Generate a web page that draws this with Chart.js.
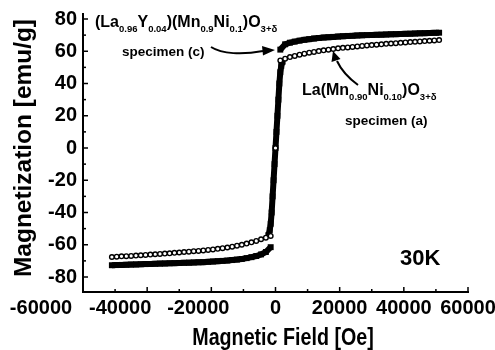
<!DOCTYPE html>
<html>
<head>
<meta charset="utf-8">
<script src="https://cdn.jsdelivr.net/npm/chart.js@4/dist/chart.umd.min.js"></script>
<style>
html,body{margin:0;padding:0;background:#fff;}
#wrap{width:495px;height:350px;position:relative;}
</style>
</head>
<body>
<div id="wrap"><canvas id="c" width="495" height="350"></canvas></div>
<script>
// ---- Data ----
// Specimen (a): La(Mn0.90Ni0.10)O3+d  (open circles)
const fieldAUp = [0,1500,3000,4500,6000,7500,9000,10500,12000,13500,15000,16500,18000,19500,21000,22500,24000,25500,27000,28500,30000,31500,33000,34500,36000,37500,39000,40500,42000,43500,45000,46500,48000,49500,51000];
const magAUp = [0,54.3,55.4,56.4,57.1,57.9,58.5,59.1,59.6,60.1,60.6,61.0,61.4,61.8,62.1,62.4,62.7,63.0,63.3,63.6,63.8,64.1,64.3,64.6,64.8,65.0,65.2,65.5,65.7,65.9,66.1,66.3,66.5,66.7,66.9];
const fieldADown = [-1500,-3000,-4500,-6000,-7500,-9000,-10500,-12000,-13500,-15000,-16500,-18000,-19500,-21000,-22500,-24000,-25500,-27000,-28500,-30000,-31500,-33000,-34500,-36000,-37500,-39000,-40500,-42000,-43500,-45000,-46500,-48000,-49500,-51000];
const magADown = [-54.5,-55.6,-56.6,-57.6,-58.5,-59.3,-60.0,-60.6,-61.2,-61.7,-62.1,-62.5,-62.9,-63.2,-63.5,-63.8,-64.0,-64.3,-64.5,-64.8,-65.0,-65.3,-65.5,-65.7,-65.9,-66.1,-66.3,-66.5,-66.7,-66.9,-67.1,-67.2,-67.4,-67.6];

// Specimen (c): (La0.96Y0.04)(Mn0.9Ni0.1)O3+d  (filled squares)
const fieldCLow = [-51000,-49500,-48000,-46500,-45000,-43500,-42000,-40500,-39000,-37500,-36000,-34500,-33000,-31500,-30000,-28500,-27000,-25500,-24000,-22500,-21000,-19500,-18000,-16500,-15000,-13500,-12000,-10500,-9000,-7500,-6000,-4500,-3000,-1500];
const magCLow = [-72.7,-72.6,-72.5,-72.4,-72.3,-72.2,-72.1,-72.0,-71.9,-71.8,-71.7,-71.6,-71.5,-71.4,-71.3,-71.2,-71.1,-71.0,-70.9,-70.8,-70.6,-70.4,-70.2,-70.0,-69.8,-69.5,-69.2,-68.8,-68.3,-67.7,-67.0,-66.0,-64.5,-61.5];
const fieldCMid = [-2200,-1800,-1500,-1200,-900,-600,-300,0,300,600,900,1200,1500,1800,2200];
const magCMid = [-54,-51,-47,-40,-30,-20,-10,0,10,20,30,40,47,51,53.5];
const fieldCHigh = [1500,3000,4500,6000,7500,9000,10500,12000,13500,15000,16500,18000,19500,21000,22500,24000,25500,27000,28500,30000,31500,33000,34500,36000,37500,39000,40500,42000,43500,45000,46500,48000,49500,51000];
const magCHigh = [61.0,64.3,65.3,66.0,66.6,67.1,67.5,67.9,68.2,68.5,68.7,68.9,69.1,69.3,69.5,69.6,69.8,69.9,70.0,70.1,70.2,70.3,70.4,70.5,70.6,70.7,70.8,70.9,71.0,71.1,71.2,71.3,71.4,71.5];

// Axis ticks
const xTickValues = [-60000,-40000,-20000,0,20000,40000,60000];
const xTickLabels = ['-60000','-40000','-20000','0','20000','40000','60000'];
const xMinorValues = [-50000,-30000,-10000,10000,30000,50000];
const yTickValues = [-80,-60,-40,-20,0,20,40,60,80];
const yMinorValues = [-70,-50,-30,-10,10,30,50,70];

const pts = (xs, ys) => xs.map((x, i) => ({x: x, y: ys[i]}));
const FONT = '"Liberation Sans", Arial, Helvetica, sans-serif';

function rich(ctx, x, y, parts, big, small, drop) {
  let cx = x;
  parts.forEach(([t, sub]) => {
    ctx.font = sub ? small : big;
    ctx.fillText(t, cx, sub ? y + drop : y);
    cx += ctx.measureText(t).width;
  });
}

const decor = {
  id: 'decor',
  afterDraw(chart) {
    const {ctx, chartArea: a, scales: {x, y}} = chart;
    ctx.save();
    ctx.strokeStyle = '#000';
    ctx.fillStyle = '#000';
    ctx.lineWidth = 1.5;
    const seg = (x1, y1, x2, y2) => { ctx.beginPath(); ctx.moveTo(x1, y1); ctx.lineTo(x2, y2); ctx.stroke(); };
    xTickValues.forEach(v => { const p = x.getPixelForValue(v); seg(p, a.bottom, p, a.bottom - 5); });
    xMinorValues.forEach(v => { const p = x.getPixelForValue(v); seg(p, a.bottom, p, a.bottom - 3); });
    yTickValues.forEach(v => { const p = y.getPixelForValue(v); seg(a.left, p, a.left + 5, p); });
    yMinorValues.forEach(v => { const p = y.getPixelForValue(v); seg(a.left, p, a.left + 3, p); });

    // x tick labels
    ctx.font = 'bold 20px ' + FONT;
    ctx.textAlign = 'center';
    ctx.textBaseline = 'alphabetic';
    const shift = [-42, -27, -13, 0, 0, 0, 0];
    xTickValues.forEach((v, i) => {
      const p = x.getPixelForValue(v) + shift[i];
      ctx.fillText(xTickLabels[i], p, 313.5);
    });

    // axis titles
    ctx.save();
    ctx.translate(283, 345);
    ctx.scale(0.82, 1);
    ctx.font = 'bold 24px ' + FONT;
    ctx.textAlign = 'center';
    ctx.fillText('Magnetic Field [Oe]', 0, 0);
    ctx.restore();

    ctx.save();
    ctx.translate(31, 148);
    ctx.rotate(-Math.PI / 2);
    ctx.font = 'bold 24px ' + FONT;
    ctx.textAlign = 'center';
    const t = 'Magnetization [emu/g]';
    const w = ctx.measureText(t).width;
    ctx.scale(258 / w, 1);
    ctx.fillText(t, 0, 0);
    ctx.restore();

    // annotations
    ctx.textAlign = 'left';
    const B = 'bold 16px ' + FONT, S = 'bold 9.5px ' + FONT;
    rich(ctx, 95, 27, [['(La',0],['0.96',1],['Y',0],['0.04',1],[')(Mn',0],['0.9',1],['Ni',0],['0.1',1],[')O',0],['3+\u03B4',1]], B, S, 4.5);
    ctx.font = 'bold 13.5px ' + FONT;
    ctx.fillText('specimen (c)', 122, 56);
    rich(ctx, 302, 95, [['La(Mn',0],['0.90',1],['Ni',0],['0.10',1],[')O',0],['3+\u03B4',1]], B, S, 4.5);
    ctx.font = 'bold 13.5px ' + FONT;
    ctx.fillText('specimen (a)', 345, 125);
    ctx.font = 'bold 22px ' + FONT;
    ctx.fillText('30K', 400, 265);

    // arrows
    ctx.lineWidth = 2;
    ctx.beginPath();
    ctx.moveTo(211, 47);
    ctx.bezierCurveTo(222, 54, 242, 55, 263, 51);
    ctx.stroke();
    ctx.beginPath();
    ctx.moveTo(275, 50);
    ctx.lineTo(262, 46);
    ctx.lineTo(263, 55.5);
    ctx.closePath();
    ctx.fill();

    ctx.beginPath();
    ctx.moveTo(358, 85);
    ctx.quadraticCurveTo(343, 74, 337, 61);
    ctx.stroke();
    ctx.beginPath();
    ctx.moveTo(333, 51);
    ctx.lineTo(331.5, 62);
    ctx.lineTo(340.5, 59);
    ctx.closePath();
    ctx.fill();
    ctx.restore();
  }
};

const openStyle = {
  showLine: false,
  pointStyle: 'circle',
  pointRadius: 2.3,
  pointBorderWidth: 1.4,
  pointBackgroundColor: '#fff',
  pointBorderColor: '#000'
};
const filledStyle = {
  showLine: true,
  borderColor: '#000',
  borderWidth: 6,
  pointStyle: 'rect',
  pointRadius: 4.2,
  pointBorderWidth: 0,
  pointBackgroundColor: '#000',
  spanGaps: false
};

new Chart(document.getElementById('c'), {
  type: 'scatter',
  data: {
    datasets: [
      Object.assign({label: 'specimen (a) up', data: pts(fieldAUp, magAUp)}, openStyle),
      Object.assign({label: 'specimen (a) down', data: pts(fieldADown, magADown)}, openStyle),
      Object.assign({label: 'specimen (c) low', data: pts(fieldCLow, magCLow)}, filledStyle),
      Object.assign({label: 'specimen (c) mid', data: pts(fieldCMid, magCMid)}, filledStyle),
      Object.assign({label: 'specimen (c) high', data: pts(fieldCHigh, magCHigh)}, filledStyle)
    ]
  },
  options: {
    responsive: false,
    devicePixelRatio: 1,
    animation: false,
    events: [],
    layout: {padding: {top: 14, right: 27, left: 0, bottom: 0}},
    plugins: {legend: {display: false}, tooltip: {enabled: false}},
    scales: {
      x: {
        type: 'linear',
        min: -60000, max: 60000,
        grid: {display: false, drawTicks: false},
        border: {display: true, color: '#000', width: 2},
        ticks: {display: false},
        afterFit(s) { s.height = 58; s.paddingLeft = 0; s.paddingRight = 0; }
      },
      y: {
        type: 'linear',
        min: -89.3, max: 83.1,
        grid: {display: false, drawTicks: false},
        border: {display: true, color: '#000', width: 2},
        afterBuildTicks(s) { s.ticks = yTickValues.map(v => ({value: v})); },
        ticks: {
          color: '#000',
          padding: 6,
          font: {family: FONT, size: 20, weight: 'bold'},
          callback: v => String(v)
        },
        afterFit(s) { s.width = 83; s.paddingTop = 0; s.paddingBottom = 0; }
      }
    }
  },
  plugins: [decor]
});
</script>
</body>
</html>
